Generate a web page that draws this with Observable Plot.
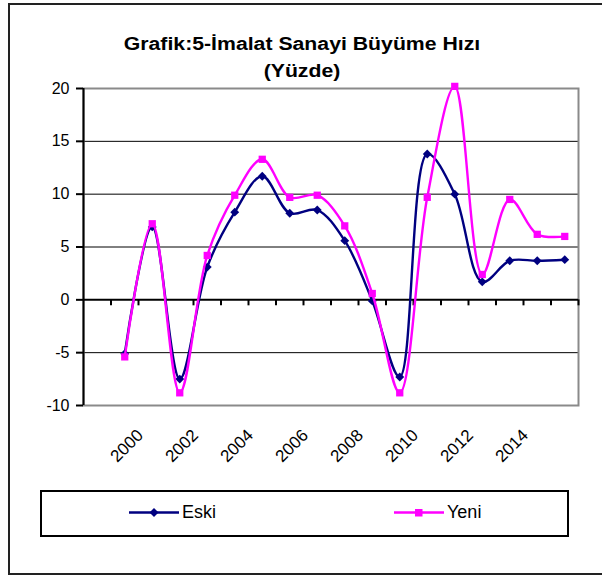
<!DOCTYPE html>
<html>
<head>
<meta charset="utf-8">
<script src="https://cdn.jsdelivr.net/npm/d3@7"></script>
<script src="https://cdn.jsdelivr.net/npm/@observablehq/plot@0.6"></script>
<style>
html, body { margin: 0; padding: 0; background: #fff; overflow: hidden; }
#wrap { position: relative; width: 602px; height: 575px; overflow: hidden; font-family: "Liberation Sans", Arial, sans-serif; color: #000; }
#frame { position: absolute; left: 8px; top: 3px; width: 640px; height: 572px; border: 2px solid #222; box-sizing: border-box; }
#chart { position: absolute; left: 0; top: 0; }
#title { position: absolute; left: 0; top: 31px; width: 604px; text-align: center; font-weight: bold; font-size: 18px; line-height: 27px; transform: scaleX(1.18); transform-origin: 302px 0; white-space: nowrap; }
#legendBox { position: absolute; left: 40px; top: 490px; width: 529px; height: 47px; border: 2px solid #000; box-sizing: border-box; }
.lgItem { position: absolute; top: 503px; height: 18px; font-size: 18px; line-height: 18px; white-space: nowrap; }
.lgItem svg { position: absolute; top: 0; }
.lgItem span { position: absolute; top: 0; }
</style>
</head>
<body>
<div id="wrap">
  <div id="frame"></div>
  <div id="chart"></div>
  <div id="title">Grafik:5-İmalat Sanayi Büyüme Hızı<br>(Yüzde)</div>
  <div id="legendBox"></div>
  <div id="legend"></div>
</div>
<script>
// ---- data ----
const years = [1999, 2000, 2001, 2002, 2003, 2004, 2005, 2006, 2007, 2008, 2009, 2010, 2011, 2012, 2013, 2014, 2015];
const eski  = [-5.1, 6.9, -7.5, 3.1, 8.3, 11.7, 8.2, 8.5, 5.6, -0.1, -7.3, 13.8, 10.0, 1.7, 3.7, 3.7, 3.8];
const yeni  = [-5.4, 7.2, -8.8, 4.2, 9.9, 13.3, 9.7, 9.9, 7.0, 0.6, -8.8, 9.7, 20.2, 2.4, 9.5, 6.2, 6.0];
const seriesNames = ["Eski", "Yeni"];
const seriesColors = ["#000080", "#ff00ff"];
const yTicks = [-10, -5, 0, 5, 10, 15, 20];
const gridValues = [-5, 5, 10, 15];
const xLabelYears = [2000, 2002, 2004, 2006, 2008, 2010, 2012, 2014];

// ---- derived tables ----
const xDomain = [years[0] - 1.5, years[years.length - 1] + 0.5]; // includes one empty leading category
const categoryBounds = d3.range(xDomain[0] + 1, xDomain[1] + 0.001, 1);
const rows = years.flatMap((yr, i) => [
  {year: yr, value: eski[i], series: seriesNames[0]},
  {year: yr, value: yeni[i], series: seriesNames[1]}
]);
const eskiRows = rows.filter(d => d.series === "Eski");
const yeniRows = rows.filter(d => d.series === "Yeni");

const chart = Plot.plot({
  width: 602,
  height: 575,
  marginLeft: 83,
  marginRight: 24,
  marginTop: 88,
  marginBottom: 170,
  style: {fontFamily: '"Liberation Sans", Arial, sans-serif', background: "transparent", color: "#000", overflow: "visible"},
  x: {domain: xDomain, axis: null},
  y: {domain: [yTicks[0], yTicks[yTicks.length - 1]], axis: null},
  color: {domain: seriesNames, range: seriesColors},
  symbol: {domain: seriesNames, range: ["diamond2", "square"]},
  marks: [
    Plot.ruleY(gridValues, {stroke: "#000", strokeWidth: 1}),
    Plot.frame({stroke: "#8a8a8a", strokeWidth: 2}),
    Plot.ruleX([xDomain[0]], {stroke: "#000", strokeWidth: 2}),
    Plot.ruleY([0], {stroke: "#000", strokeWidth: 2}),
    Plot.ruleX(categoryBounds, {y1: 0, y2: 0, insetBottom: -6, stroke: "#000", strokeWidth: 2}),
    Plot.axisY({ticks: yTicks, tickSize: 7, tickPadding: 7, tickFormat: d => String(d), fontSize: 16, strokeWidth: 2, stroke: "#000", fill: "#000", label: null}),
    Plot.text(xLabelYears, {x: d => d, text: d => String(d), frameAnchor: "bottom", rotate: -45, textAnchor: "end", lineAnchor: "middle", dy: 27, dx: -12, fontSize: 17, fill: "#000"}),
    Plot.line(eskiRows, {x: "year", y: "value", stroke: "series", curve: "catmull-rom", strokeWidth: 2.4}),
    Plot.dot(eskiRows, {x: "year", y: "value", symbol: "series", fill: "series", r: 4.0}),
    Plot.line(yeniRows, {x: "year", y: "value", stroke: "series", curve: "catmull-rom", strokeWidth: 2.4}),
    Plot.dot(yeniRows, {x: "year", y: "value", symbol: "series", fill: "series", r: 4.1})
  ]
});
document.getElementById("chart").appendChild(chart);

// ---- legend (HTML) ----
const legend = document.getElementById("legend");
const legendPos = [129, 394];
const legendShapes = [
  '<polygon points="25,5 29.5,9.5 25,14 20.5,9.5" fill="#000080"/>',
  '<rect x="21" y="6" width="7.5" height="7.5" fill="#ff00ff"/>'
];
seriesNames.forEach((name, i) => {
  const item = document.createElement("div");
  item.className = "lgItem";
  item.style.left = legendPos[i] + "px";
  item.innerHTML =
    '<svg width="50" height="19" style="left:0"><line x1="0" x2="50" y1="9.5" y2="9.5" stroke="' + seriesColors[i] + '" stroke-width="2.3"/>' +
    legendShapes[i] + '</svg><span style="left:53px">' + name + '</span>';
  legend.appendChild(item);
});
</script>
</body>
</html>
